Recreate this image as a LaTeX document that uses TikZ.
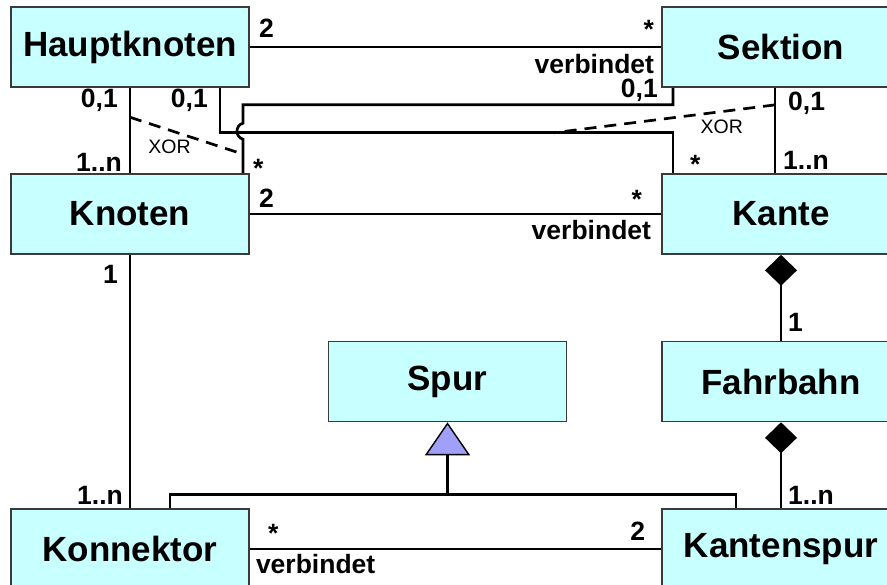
\documentclass[tikz,border=0pt]{standalone}
\usepackage{fontspec}
\setmainfont{Liberation Sans}
\usetikzlibrary{arrows.meta}
\definecolor{klassfill}{HTML}{C8FFFF}
\definecolor{klassline}{HTML}{3A3A3A}
\definecolor{erbfill}{HTML}{A0A0F8}
\tikzset{
  klasse/.style={draw=klassline, line width=1.6pt, fill=klassfill,
    minimum width=238pt, minimum height=80pt, inner sep=0pt,
    font=\fontsize{35}{40}\selectfont\bfseries},
  assoc/.style={line width=2.7pt, draw=black},
  mult/.style={inner sep=0pt, font=\fontsize{26.5}{30}\selectfont\bfseries},
  xortext/.style={inner sep=0pt, font=\fontsize{19.5}{22}\selectfont},
  xorline/.style={line width=2.7pt, dash pattern=on 12pt off 8pt},
  komp/.style={assoc, {Diamond[length=31pt, width=32pt]}-},
  erbt/.style={assoc, -{Triangle[length=33pt, width=45pt, fill=erbfill, line width=1.4pt]}}
}

\begin{document}
\begin{tikzpicture}[x=1pt, y=-1pt]
  \fill[white] (0,0) rectangle (887,585);
  \useasboundingbox (0,0) rectangle (887,585);

  % Klassen
  \node[klasse] (Hauptknoten) at (130,47) {Hauptknoten};
  \node[klasse] (Sektion) at (781,47) {Sektion};
  \node[klasse] (Knoten) at (130,214) {Knoten};
  \node[klasse] (Kante) at (781,214) {Kante};
  \node[klasse] (Spur) at (447.5,381.5) {Spur};
  \node[klasse] (Fahrbahn) at (781,381.5) {Fahrbahn};
  \node[klasse] (Konnektor) at (130,549) {Konnektor};
  \node[klasse] (Kantenspur) at (781,549) {Kantenspur};

  % Assoziationen
  \draw[assoc] (Hauptknoten) -- (Sektion);
  \draw[assoc] (Knoten) -- (Kante);
  \draw[assoc] (Konnektor) -- (Kantenspur);
  \draw[assoc] (Hauptknoten) -- coordinate[pos=.345] (xorA) (Knoten);
  \draw[assoc] (Knoten) -- (Konnektor);
  \draw[assoc] ([xshift=-6pt]Sektion.south) -- coordinate[pos=.2] (xorC) ([xshift=-6pt]Kante.north);
  \draw[assoc] ([xshift=90pt]Hauptknoten.south) -- ++(0,45)
    -| coordinate[pos=.368] (xorD) ([xshift=-108pt]Kante.north);
  % Sektion -> Knoten, springt ueber die Linie Hauptknoten -> Kante
  \draw[assoc] ([xshift=-108pt]Sektion.south) -- ++(0,17)
    -| ([xshift=113pt,yshift=50pt]Knoten.north)
    .. controls +(-8,2) and +(-8,-2) .. ++(0,16)
    -- coordinate[pos=.44] (xorB) ([xshift=113pt]Knoten.north);

  % XOR-Bedingungen
  \draw[xorline] (xorA) -- node[xortext, pos=.35, below=8pt] (xorL) {XOR} (xorB);
  \draw[xorline] (xorC) -- node[xortext, pos=.24, below=7pt] (xorR) {XOR} (xorD);

  % Komposition
  \draw[komp] (Kante) -- (Fahrbahn);
  \draw[komp] (Fahrbahn) -- (Kantenspur);

  % Vererbung
  \draw[assoc] ([xshift=40pt]Konnektor.north) -- ++(0,-14) coordinate (erbL)
    -| ([xshift=-45pt]Kantenspur.north);
  \draw[erbt] (erbL -| Spur.south) -- (Spur);

  % Multiplizitaeten und Rollen
  \node[mult, anchor=base west] (hs-a) at ([xshift=9pt,yshift=9pt]Hauptknoten.east) {2};
  \node[mult, anchor=base east] (hs-b) at ([xshift=-7pt,yshift=8pt]Sektion.west) {*};
  \node[mult, anchor=base east] (hs-v) at ([xshift=-7pt,yshift=-27pt]Sektion.west) {verbindet};
  \node[mult, anchor=base east] (hk-a) at ([xshift=-12pt,yshift=-20pt]Hauptknoten.south) {0,1};
  \node[mult, anchor=base east] (hka-a) at ([xshift=78pt,yshift=-20pt]Hauptknoten.south) {0,1};
  \node[mult, anchor=base east] (sk-a) at ([xshift=-123pt,yshift=-10pt]Sektion.south) {0,1};
  \node[mult, anchor=base west] (ska-a) at ([xshift=7pt,yshift=-23pt]Sektion.south) {0,1};
  \node[mult, anchor=base east] (hk-b) at ([xshift=-8pt,yshift=2pt]Knoten.north) {1..n};
  \node[mult, anchor=base west] (sk-b) at ([xshift=123pt,yshift=-4pt]Knoten.north) {*};
  \node[mult, anchor=base west] (hka-b) at ([xshift=-91pt]Kante.north) {*};
  \node[mult, anchor=base west] (ska-b) at ([xshift=2pt,yshift=4pt]Kante.north) {1..n};
  \node[mult, anchor=base west] (kk-a) at ([xshift=9pt,yshift=6pt]Knoten.east) {2};
  \node[mult, anchor=base east] (kk-b) at ([xshift=-19pt,yshift=5pt]Kante.west) {*};
  \node[mult, anchor=base east] (kk-v) at ([xshift=-10pt,yshift=-26pt]Kante.west) {verbindet};
  \node[mult, anchor=base east] (kn-a) at ([xshift=-12pt,yshift=-29pt]Knoten.south) {1};
  \node[mult, anchor=base east] (kn-b) at ([xshift=-7pt,yshift=4pt]Konnektor.north) {1..n};
  \node[mult, anchor=base west] (kf-a) at ([xshift=7pt,yshift=9pt]Fahrbahn.north) {1};
  \node[mult, anchor=base west] (fk-a) at ([xshift=7pt,yshift=4pt]Kantenspur.north) {1..n};
  \node[mult, anchor=base west] (ks-a) at ([xshift=18pt,yshift=7pt]Konnektor.east) {*};
  \node[mult, anchor=base west] (ks-v) at ([xshift=6pt,yshift=-24pt]Konnektor.east) {verbindet};
  \node[mult, anchor=base east] (ks-b) at ([xshift=-16pt,yshift=9pt]Kantenspur.west) {2};
\end{tikzpicture}
\end{document}
